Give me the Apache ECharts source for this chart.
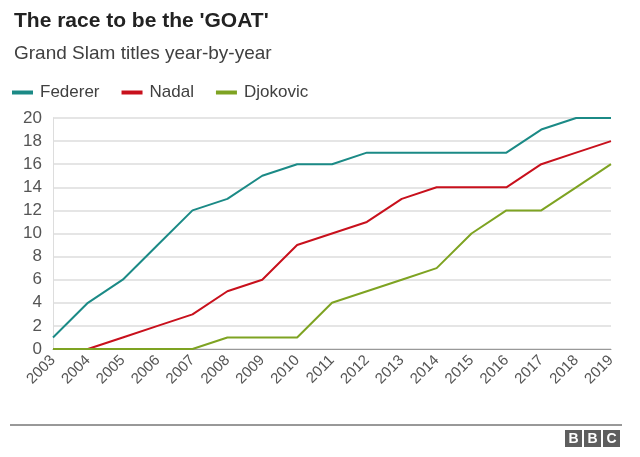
<!DOCTYPE html>
<html>
<head>
<meta charset="utf-8">
<script src="https://cdn.jsdelivr.net/npm/echarts@6/dist/echarts.min.js"></script>
<style>
  html, body { margin: 0; padding: 0; background: #fff; }
  #chart { width: 640px; height: 457px; }
</style>
</head>
<body>
<div id="chart"></div>
<script>
  // years on the x axis
  var years = ['2003','2004','2005','2006','2007','2008','2009','2010','2011',
               '2012','2013','2014','2015','2016','2017','2018','2019'];
  // cumulative grand slam titles
  var federer  = [1, 4, 6, 9, 12, 13, 15, 16, 16, 17, 17, 17, 17, 17, 19, 20, 20];
  var nadal    = [0, 0, 1, 2, 3, 5, 6, 9, 10, 11, 13, 14, 14, 14, 16, 17, 18];
  var djokovic = [0, 0, 0, 0, 0, 1, 1, 1, 4, 5, 6, 7, 10, 12, 12, 14, 16];

  var font = 'Liberation Sans, Arial, Helvetica, sans-serif';

  var chart = echarts.init(document.getElementById('chart'));

  // bbc blocks, bottom right
  var logo = [];
  ['B','B','C'].forEach(function (ch, i) {
    logo.push({
      type: 'rect',
      shape: { x: 565 + i * 19, y: 430, width: 17, height: 17 },
      style: { fill: '#5e5e5e' }
    });
    logo.push({
      type: 'text',
      style: {
        text: ch, x: 565 + i * 19 + 8.5, y: 439, align: 'center', verticalAlign: 'middle',
        fill: '#fff', font: 'bold 14px ' + font
      }
    });
  });

  chart.setOption({
    animation: false,
    color: ['#1b8a86', '#c8101c', '#7ea322'],
    title: [
      {
        text: "The race to be the 'GOAT'",
        left: 9,
        top: 6,
        textStyle: { fontFamily: font, fontSize: 21, fontWeight: 'bold', color: '#222' }
      },
      {
        text: 'Grand Slam titles year-by-year',
        left: 9,
        top: 39,
        textStyle: { fontFamily: font, fontSize: 19, fontWeight: 'normal', color: '#404040' }
      }
    ],
    legend: {
      left: 7,
      top: 79,
      icon: 'rect',
      itemWidth: 21,
      itemHeight: 4,
      itemGap: 22,
      textStyle: { fontFamily: font, fontSize: 17, color: '#404040', padding: [0, 0, 0, 2] },
      data: ['Federer', 'Nadal', 'Djokovic']
    },
    grid: { left: 53, right: 29, top: 118, bottom: 108 },
    xAxis: {
      type: 'category',
      data: years,
      boundaryGap: false,
      axisLine: { lineStyle: { color: '#999', width: 1 } },
      axisTick: { show: false },
      axisLabel: { rotate: 45, fontFamily: font, fontSize: 15, color: '#555', margin: 9 }
    },
    yAxis: {
      type: 'value',
      min: 0,
      max: 20,
      interval: 2,
      axisLine: { show: true, lineStyle: { color: '#ddd', width: 1 } },
      axisTick: { show: false },
      axisLabel: { fontFamily: font, fontSize: 17, color: '#555', margin: 11 },
      splitLine: { lineStyle: { color: '#dcdcdc', width: 1.5 } }
    },
    series: [
      { name: 'Federer', type: 'line', data: federer, symbol: 'none', lineStyle: { width: 2 } },
      { name: 'Nadal', type: 'line', data: nadal, symbol: 'none', lineStyle: { width: 2 } },
      { name: 'Djokovic', type: 'line', data: djokovic, symbol: 'none', lineStyle: { width: 2 } }
    ],
    graphic: [
      {
        type: 'line',
        shape: { x1: 10, y1: 425, x2: 622, y2: 425 },
        style: { stroke: '#333', lineWidth: 1 }
      }
    ].concat(logo)
  });
</script>
</body>
</html>
